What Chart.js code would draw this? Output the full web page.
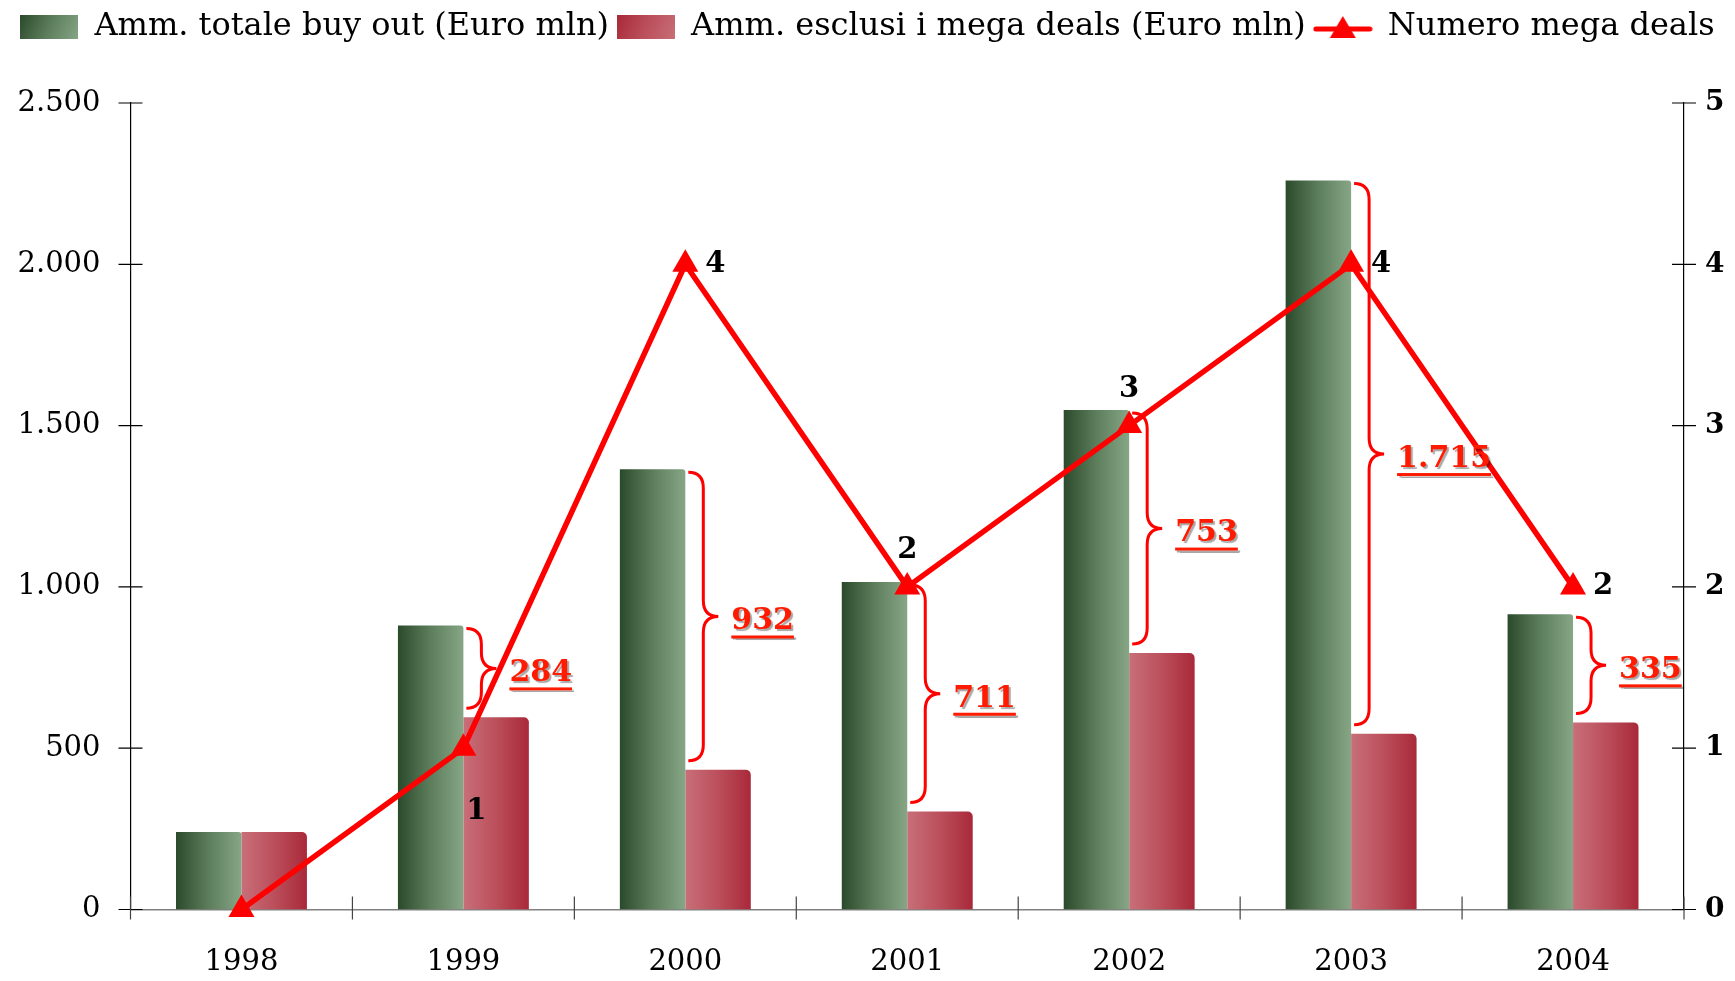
<!DOCTYPE html>
<html>
<head>
<meta charset="utf-8">
<script src="https://cdn.jsdelivr.net/npm/chart.js@4.4.1/dist/chart.umd.min.js"></script>
<style>
  html, body { margin: 0; padding: 0; background: #fff; }
  #wrap { width: 1735px; height: 981px; }
</style>
</head>
<body>
<div id="wrap"><canvas id="grafico"></canvas></div>
<script>
// dati
const anni = ["1998", "1999", "2000", "2001", "2002", "2003", "2004"];
const totaleBuyOut = [240, 880, 1365, 1015, 1548, 2260, 915];     // Euro mln
const esclusiMegaDeals = [240, 596, 433, 304, 795, 545, 580];     // Euro mln
const numeroMegaDeals = [0, 1, 4, 2, 3, 4, 2];
const importoMegaDeals = [null, 284, 932, 711, 753, 1715, 335];   // etichette delle graffe
const posEtichetteLinea = [null, "below", "right", "above", "above", "right", "right"];
const tickSinistra = [0, 500, 1000, 1500, 2000, 2500];
const tickDestra = [0, 1, 2, 3, 4, 5];

const FONT = "'DejaVu Serif', serif";
const catPerc = 0.59;

// 2500 -> "2.500"
const formatta = v => String(v).replace(/\B(?=(\d{3})+(?!\d))/g, ".");

// sfumatura orizzontale per ogni barra
function sfumatura(colori) {
  return (ctx) => {
    const chart = ctx.chart;
    const xs = chart.scales.x;
    if (ctx.type !== "data" || !xs || !chart.chartArea) return colori[1];
    const c = xs.getPixelForValue(ctx.dataIndex);
    const w = (xs.width / anni.length) * catPerc / 2;
    const left = ctx.datasetIndex === 0 ? c - w : c;
    const g = chart.ctx.createLinearGradient(left, 0, left + w, 0);
    g.addColorStop(0, colori[0]);
    g.addColorStop(0.5, colori[1]);
    g.addColorStop(1, colori[2]);
    return g;
  };
}
const coloriVerde = ["#2b4a2b", "#5d7e5d", "#86a686"];
const coloriRosso = ["#c86f79", "#bb4f5b", "#a9293a"];

// icone della legenda
function iconaBarra(colori) {
  const c = document.createElement("canvas");
  c.width = 58; c.height = 24;
  const x = c.getContext("2d");
  const g = x.createLinearGradient(0, 0, 58, 24);
  g.addColorStop(0, colori[0]);
  g.addColorStop(0.5, colori[1]);
  g.addColorStop(1, colori[2]);
  x.fillStyle = g;
  x.fillRect(0, 0, 58, 24);
  return c;
}
function iconaLinea() {
  const c = document.createElement("canvas");
  c.width = 60; c.height = 26;
  const x = c.getContext("2d");
  x.strokeStyle = "#ff0000"; x.lineWidth = 5; x.lineCap = "round";
  x.beginPath(); x.moveTo(3, 15); x.lineTo(57, 15); x.stroke();
  x.fillStyle = "#ff0000";
  x.beginPath(); x.moveTo(30, 2); x.lineTo(43, 24); x.lineTo(17, 24); x.closePath(); x.fill();
  return c;
}
const iconeLegenda = [iconaBarra(coloriVerde), iconaBarra(coloriRosso.slice().reverse()), iconaLinea()];

// spazio sotto la legenda
const margineLegenda = {
  id: "margineLegenda",
  beforeInit(chart) {
    const fit = chart.legend.fit;
    chart.legend.fit = function () {
      fit.bind(chart.legend)();
      this.height += 50;
    };
  }
};

// tacche che attraversano gli assi
const tacche = {
  id: "tacche",
  afterDatasetsDraw(chart) {
    const { ctx, chartArea: a, scales } = chart;
    ctx.save();
    ctx.lineWidth = 1.2;
    ctx.strokeStyle = "#000";
    ctx.beginPath();
    tickSinistra.forEach(v => {
      const y = scales.y.getPixelForValue(v);
      ctx.moveTo(a.left - 12, y); ctx.lineTo(a.left + 12, y);
    });
    tickDestra.forEach(v => {
      const y = scales.y1.getPixelForValue(v);
      ctx.moveTo(a.right - 12, y); ctx.lineTo(a.right + 12, y);
    });
    ctx.stroke();
    ctx.strokeStyle = "#444";
    ctx.beginPath();
    const passo = (a.right - a.left) / anni.length;
    for (let i = 0; i <= anni.length; i++) {
      const x = a.left + i * passo;
      ctx.moveTo(x, a.bottom - 13); ctx.lineTo(x, a.bottom + 10);
    }
    ctx.stroke();
    ctx.restore();
  }
};

// graffe rosse con importo dei mega deals
function graffa(ctx, x, y1, y2, w) {
  const ym = (y1 + y2) / 2;
  const r = w / 2;
  const rv = Math.min(16, (y2 - y1) / 4);
  ctx.beginPath();
  ctx.moveTo(x, y1);
  ctx.quadraticCurveTo(x + r, y1, x + r, y1 + rv);
  ctx.lineTo(x + r, ym - rv);
  ctx.quadraticCurveTo(x + r, ym, x + w, ym);
  ctx.quadraticCurveTo(x + r, ym, x + r, ym + rv);
  ctx.lineTo(x + r, y2 - rv);
  ctx.quadraticCurveTo(x + r, y2, x, y2);
  ctx.stroke();
}

const annotazioni = {
  id: "annotazioni",
  afterDatasetsDraw(chart) {
    const { ctx, scales } = chart;
    const xs = scales.x, ys = scales.y, y1s = scales.y1;
    ctx.save();
    importoMegaDeals.forEach((v, i) => {
      if (v == null) return;
      const c = xs.getPixelForValue(i);
      const yTop = ys.getPixelForValue(totaleBuyOut[i]) + 3;
      const yBot = ys.getPixelForValue(esclusiMegaDeals[i]) - 9;
      const x0 = c + 3;
      ctx.strokeStyle = "#ff0000";
      ctx.lineWidth = 3;
      graffa(ctx, x0, yTop, yBot, 30);
      const ym = (yTop + yBot) / 2 + 5;
      const testo = formatta(v);
      ctx.font = "bold 30px " + FONT;
      ctx.textAlign = "left";
      ctx.textBaseline = "middle";
      const tx = x0 + 30 + 13;
      const tw = ctx.measureText(testo).width;
      ctx.shadowColor = "rgba(0,0,0,0.35)";
      ctx.shadowOffsetX = 2; ctx.shadowOffsetY = 2; ctx.shadowBlur = 1;
      ctx.fillStyle = "#ff1a00";
      ctx.fillText(testo, tx, ym);
      ctx.fillRect(tx, ym + 14, tw, 3);
      ctx.shadowColor = "transparent";
    });
    // numeri della linea
    ctx.font = "bold 29px " + FONT;
    ctx.fillStyle = "#000";
    ctx.textBaseline = "middle";
    numeroMegaDeals.forEach((v, i) => {
      const pos = posEtichetteLinea[i];
      if (!pos) return;
      const x = xs.getPixelForValue(i);
      const y = y1s.getPixelForValue(v);
      if (pos === "right") { ctx.textAlign = "left"; ctx.fillText(v, x + 20, y); }
      else if (pos === "above") { ctx.textAlign = "center"; ctx.fillText(v, x, y - 36); }
      else { ctx.textAlign = "center"; ctx.fillText(v, x + 13, y + 63); }
    });
    ctx.restore();
  }
};

const ctx = document.getElementById("grafico").getContext("2d");
new Chart(ctx, {
  data: {
    labels: anni,
    datasets: [
      {
        type: "bar",
        label: "Amm. totale buy out (Euro mln)",
        data: totaleBuyOut,
        backgroundColor: sfumatura(coloriVerde),
        yAxisID: "y",
        order: 1,
        barPercentage: 1,
        categoryPercentage: catPerc,
        borderRadius: { topRight: 3 }
      },
      {
        type: "bar",
        label: "Amm. esclusi i mega deals (Euro mln)",
        data: esclusiMegaDeals,
        backgroundColor: sfumatura(coloriRosso),
        yAxisID: "y",
        order: 1,
        barPercentage: 1,
        categoryPercentage: catPerc,
        borderRadius: { topRight: 5 }
      },
      {
        type: "line",
        label: "Numero mega deals",
        data: numeroMegaDeals,
        yAxisID: "y1",
        order: 0,
        borderColor: "#ff0000",
        borderWidth: 5.5,
        tension: 0,
        pointStyle: "triangle",
        pointRadius: 15,
        pointBackgroundColor: "#ff0000",
        pointBorderWidth: 0,
        clip: false
      }
    ]
  },
  options: {
    responsive: true,
    maintainAspectRatio: false,
    animation: false,
    layout: { padding: { top: 3, left: 0, right: 0, bottom: 0 } },
    plugins: {
      tooltip: { enabled: false },
      legend: {
        position: "top",
        labels: {
          usePointStyle: true,
          pointStyleWidth: 58,
          padding: 8,
          color: "#000",
          font: { family: FONT, size: 32 },
          generateLabels: chart => chart.data.datasets.map((ds, i) => ({
            text: ds.label,
            pointStyle: iconeLegenda[i],
            datasetIndex: i,
            hidden: false,
            fillStyle: "transparent",
            strokeStyle: "transparent",
            lineWidth: 0,
            fontColor: "#000"
          }))
        }
      }
    },
    scales: {
      x: {
        grid: { display: false, drawTicks: false },
        border: { display: true, color: "#808080", width: 1.6 },
        ticks: { color: "#000", font: { family: FONT, size: 29 }, padding: 36 },
        afterFit: s => { s.height = 71.5; }
      },
      y: {
        position: "left",
        min: 0,
        max: 2500,
        grid: { display: false, drawTicks: false },
        border: { display: true, color: "#000", width: 1.2 },
        afterBuildTicks: s => { s.ticks = tickSinistra.map(v => ({ value: v })); },
        ticks: { color: "#000", font: { family: FONT, size: 29 }, padding: 30, callback: v => formatta(v) },
        afterFit: s => { s.width = 130.5; }
      },
      y1: {
        position: "right",
        min: 0,
        max: 5,
        grid: { display: false, drawTicks: false },
        border: { display: true, color: "#000", width: 1.2 },
        afterBuildTicks: s => { s.ticks = tickDestra.map(v => ({ value: v })); },
        ticks: { color: "#000", font: { family: FONT, size: 28, weight: "bold" }, padding: 21 },
        afterFit: s => { s.width = 51; }
      }
    }
  },
  plugins: [margineLegenda, tacche, annotazioni]
});
</script>
</body>
</html>
